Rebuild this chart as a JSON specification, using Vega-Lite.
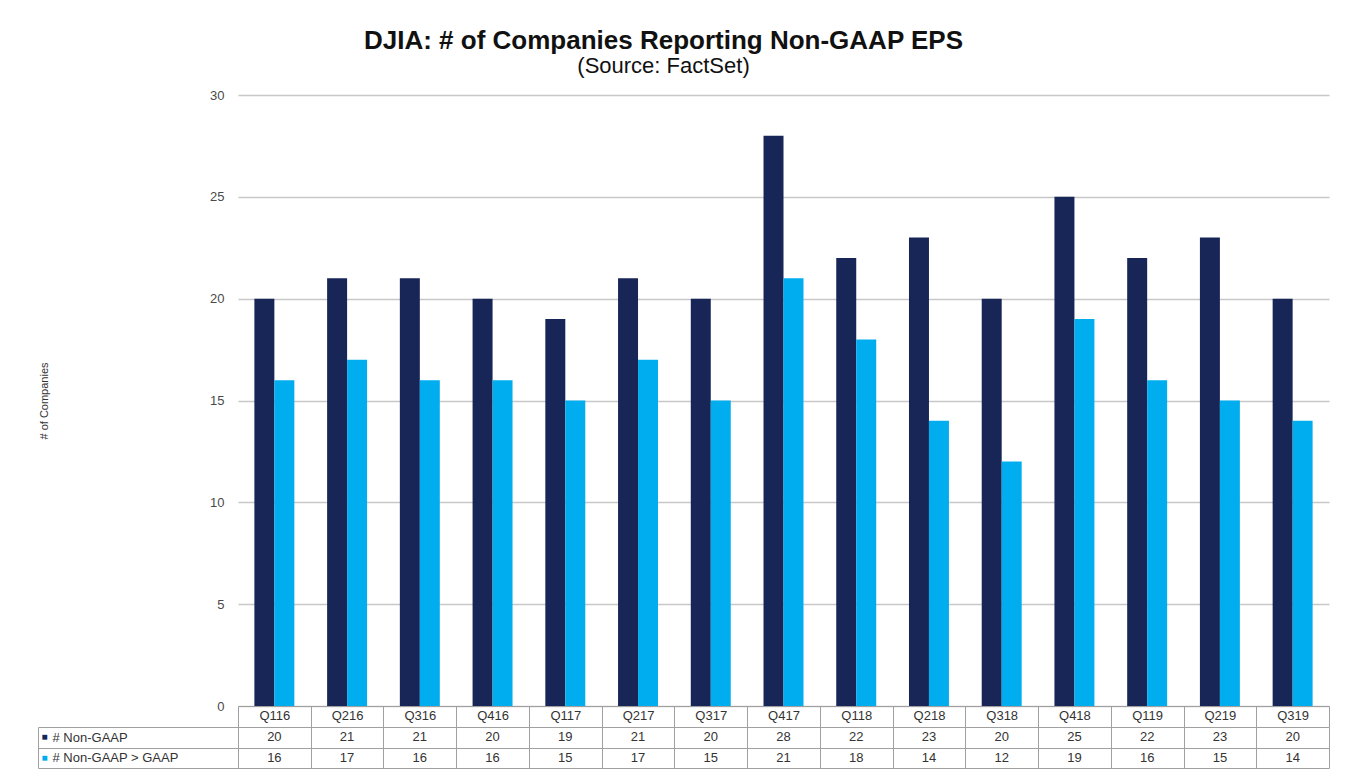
{
  "$schema": "https://vega.github.io/schema/vega-lite/v6.json",
  "padding": {"left": 37, "top": 28, "right": 20, "bottom": 1},
  "background": "white",
  "title": {
    "text": "DJIA: # of Companies Reporting Non-GAAP EPS",
    "subtitle": "(Source: FactSet)",
    "anchor": "middle",
    "dx": -20,
    "font": "Liberation Sans",
    "fontSize": 26,
    "fontWeight": "bold",
    "color": "#111111",
    "subtitleFont": "Liberation Sans",
    "subtitleFontSize": 22,
    "subtitleColor": "#111111",
    "subtitlePadding": 2,
    "offset": 12
  },
  "datasets": {
    "bars": [
      {"q": "Q116", "series": "# Non-GAAP", "value": 20},
      {"q": "Q116", "series": "# Non-GAAP > GAAP", "value": 16},
      {"q": "Q216", "series": "# Non-GAAP", "value": 21},
      {"q": "Q216", "series": "# Non-GAAP > GAAP", "value": 17},
      {"q": "Q316", "series": "# Non-GAAP", "value": 21},
      {"q": "Q316", "series": "# Non-GAAP > GAAP", "value": 16},
      {"q": "Q416", "series": "# Non-GAAP", "value": 20},
      {"q": "Q416", "series": "# Non-GAAP > GAAP", "value": 16},
      {"q": "Q117", "series": "# Non-GAAP", "value": 19},
      {"q": "Q117", "series": "# Non-GAAP > GAAP", "value": 15},
      {"q": "Q217", "series": "# Non-GAAP", "value": 21},
      {"q": "Q217", "series": "# Non-GAAP > GAAP", "value": 17},
      {"q": "Q317", "series": "# Non-GAAP", "value": 20},
      {"q": "Q317", "series": "# Non-GAAP > GAAP", "value": 15},
      {"q": "Q417", "series": "# Non-GAAP", "value": 28},
      {"q": "Q417", "series": "# Non-GAAP > GAAP", "value": 21},
      {"q": "Q118", "series": "# Non-GAAP", "value": 22},
      {"q": "Q118", "series": "# Non-GAAP > GAAP", "value": 18},
      {"q": "Q218", "series": "# Non-GAAP", "value": 23},
      {"q": "Q218", "series": "# Non-GAAP > GAAP", "value": 14},
      {"q": "Q318", "series": "# Non-GAAP", "value": 20},
      {"q": "Q318", "series": "# Non-GAAP > GAAP", "value": 12},
      {"q": "Q418", "series": "# Non-GAAP", "value": 25},
      {"q": "Q418", "series": "# Non-GAAP > GAAP", "value": 19},
      {"q": "Q119", "series": "# Non-GAAP", "value": 22},
      {"q": "Q119", "series": "# Non-GAAP > GAAP", "value": 16},
      {"q": "Q219", "series": "# Non-GAAP", "value": 23},
      {"q": "Q219", "series": "# Non-GAAP > GAAP", "value": 15},
      {"q": "Q319", "series": "# Non-GAAP", "value": 20},
      {"q": "Q319", "series": "# Non-GAAP > GAAP", "value": 14}
    ]
  },
  "config": {
    "view": {"stroke": null},
    "font": "Liberation Sans",
    "axis": {"labelFont": "Liberation Sans", "titleFont": "Liberation Sans"}
  },
  "bounds": "flush",
  "spacing": 21,
  "resolve": {"scale": {"x": "independent", "y": "independent", "color": "independent"}},
  "vconcat": [
    {
      "width": 1091,
      "height": 611,
      "data": {"name": "bars"},
      "mark": {"type": "bar"},
      "encoding": {
        "x": {
          "field": "q",
          "type": "nominal",
          "sort": null,
          "scale": {"paddingInner": 0, "paddingOuter": 0},
          "axis": {
            "title": null,
            "labelAngle": 0,
            "labelFontSize": 13,
            "labelColor": "#333333",
            "labelPadding": -18,
            "labelBaseline": "top",
            "tickSize": 21,
            "tickBand": "extent",
            "tickExtra": true,
            "tickColor": "#a0a0a0",
            "domainColor": "#a0a0a0",
            "grid": false
          }
        },
        "xOffset": {
          "field": "series",
          "sort": ["# Non-GAAP", "# Non-GAAP > GAAP"],
          "scale": {"paddingInner": 0, "paddingOuter": 0.82}
        },
        "y": {
          "field": "value",
          "type": "quantitative",
          "scale": {"domain": [0, 30]},
          "axis": {
            "values": [0, 5, 10, 15, 20, 25, 30],
            "title": "# of Companies",
            "titleFontSize": 11,
            "titleFontWeight": "normal",
            "titleColor": "#333333",
            "titlePadding": 160,
            "labelFontSize": 13,
            "labelColor": "#4a4a4a",
            "labelPadding": 14,
            "domain": false,
            "ticks": false,
            "grid": true,
            "gridColor": "#c8c8c8",
            "gridWidth": 1.5
          }
        },
        "color": {
          "field": "series",
          "type": "nominal",
          "scale": {"domain": ["# Non-GAAP", "# Non-GAAP > GAAP"], "range": ["#172557", "#00aeef"]},
          "legend": null
        }
      }
    },
    {
      "width": 1091,
      "height": 41,
      "data": {"name": "bars"},
      "encoding": {
        "x": {
          "field": "q",
          "type": "nominal",
          "sort": null,
          "scale": {"type": "band", "paddingInner": 0, "paddingOuter": 0},
          "axis": {
            "orient": "top",
            "title": null,
            "labels": false,
            "ticks": false,
            "domain": false,
            "grid": true,
            "gridColor": "#a0a0a0",
            "tickBand": "extent",
            "tickExtra": true
          }
        }
      },
      "layer": [
        {
          "mark": {"type": "text", "fontSize": 13, "color": "#333333"},
          "encoding": {
            "text": {"field": "value", "type": "quantitative"},
            "y": {
              "field": "series",
              "type": "nominal",
              "sort": ["# Non-GAAP", "# Non-GAAP > GAAP"],
              "scale": {"type": "band", "paddingInner": 0, "paddingOuter": 0},
              "axis": {
                "orient": "left",
                "title": null,
                "labelAlign": "left",
                "labelFontSize": 13,
                "labelColor": "#333333",
                "tickSize": 200,
                "labelPadding": -14,
                "tickBand": "extent",
                "tickExtra": true,
                "tickColor": "#a0a0a0",
                "domainColor": "#a0a0a0",
                "grid": true,
                "gridColor": "#a0a0a0"
              }
            }
          }
        },
        {
          "mark": {"type": "text", "opacity": 0},
          "encoding": {
            "text": {"field": "value", "type": "quantitative"},
            "y": {
              "field": "series",
              "type": "nominal",
              "sort": ["# Non-GAAP", "# Non-GAAP > GAAP"],
              "axis": {
                "orient": "left",
                "offset": 200,
                "title": null,
                "labelExpr": "'■'",
                "labelAlign": "left",
                "labelFontSize": 10,
                "labelColor": {"condition": {"test": "datum.value === '# Non-GAAP'", "value": "#172557"}, "value": "#00aeef"},
                "ticks": false,
                "tickSize": 0,
                "labelPadding": -3,
                "domainColor": "#a0a0a0",
                "grid": false
              }
            }
          }
        }
      ],
      "resolve": {"axis": {"y": "independent"}}
    }
  ]
}
